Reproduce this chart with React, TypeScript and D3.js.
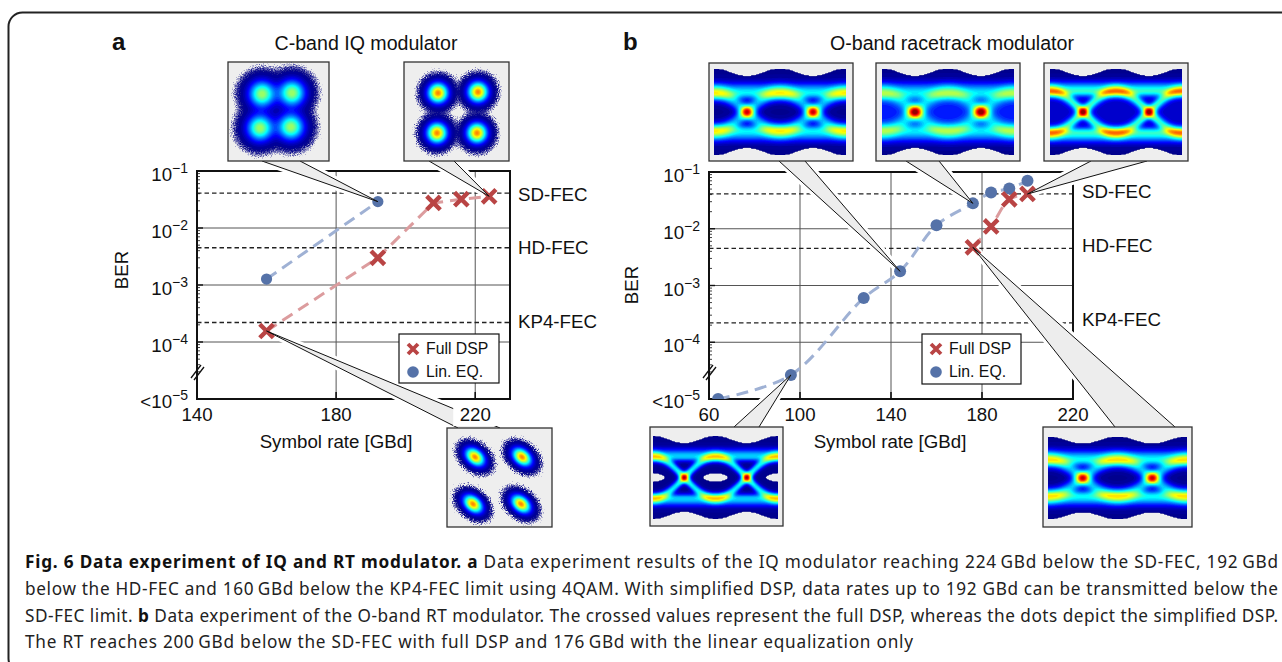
import React from "react";
import * as d3 from "d3";

// values
const iqFullRate = [160, 192, 208, 216, 224];
const iqFullBer = [1.56e-4, 3e-3, 0.0275, 0.032, 0.036];
const iqLinRate = [160, 192];
const iqLinBer = [1.27e-3, 0.029];

const rtLinRate = [64, 96, 128, 144, 160, 176, 184, 192, 200];
const rtLinBer = [1e-5, 2.65e-5, 6e-4, 1.78e-3, 0.0115, 0.028, 0.0436, 0.051, 0.07];
const rtFullRate = [176, 184, 192, 200];
const rtFullBer = [4.7e-3, 0.011, 0.033, 0.041];

const fecNames = ["SD-FEC", "HD-FEC", "KP4-FEC"];
const fecLimits = [0.041, 4.5e-3, 2.2e-4];
const berTicks = [1e-1, 1e-2, 1e-3, 1e-4, 1e-5];
const berLabels = ["\u22121", "\u22122", "\u22123", "\u22124", "\u22125"];
const iqRateTicks = [140, 180, 220];
const rtRateTicks = [60, 100, 140, 180, 220];
const legendNames = ["Full DSP", "Lin. EQ."];

const BLUE = "#5572a8";
const RED = "#b94444";
const BLUE_LINE = "#9fb1d4";
const RED_LINE = "#dc9c9e";
const SANS = "'Liberation Sans', Arial, sans-serif";
const BASE_FONT = 18.7;

const iqX = d3.scaleLinear().domain([140, 230]).range([197, 510]);
const iqY = d3.scaleLog().domain([1e-5, 1e-1]).range([399, 171]);
const rtX = d3.scaleLinear().domain([60, 220]).range([709, 1073]);
const rtY = d3.scaleLog().domain([1e-5, 1e-1]).range([399, 172]);

const jet = d3
  .scaleLinear<string>()
  .domain([0, 0.125, 0.375, 0.625, 0.875, 1])
  .range(["#00007f", "#0000ff", "#00ffff", "#ffff00", "#ff0000", "#7f0000"])
  .clamp(true);

const gauss = (d: number, s: number) => Math.exp(-(d * d) / (2 * s * s));

// the insets are painted as stacked d3 contours of a made up density
const levels = [0.002, 0.004, 0.008, 0.015, ...d3.range(0.025, 1, 0.025)];
const lowOpacity = [0.3, 0.45, 0.65, 0.85];

function Density({ x, y, w, h, f, grain }: any) {
  const values: number[] = [];
  for (let j = 0; j < h; j++) for (let i = 0; i < w; i++) values.push(f(i + 0.5, j + 0.5));
  const contours = d3.contours().size([w, h]).thresholds(levels)(values);
  const path = d3.geoPath();
  return (
    <g transform={`translate(${x},${y})`}>
      {contours.map((c: any, k: number) => (
        <path
          key={k}
          d={path(c) || ""}
          fill={jet(c.value)}
          fillOpacity={grain && k < 4 ? lowOpacity[k] : 1}
          filter={grain && k < 4 ? "url(#grain)" : undefined}
        />
      ))}
    </g>
  );
}

function eyeField(w: number, h: number, p: any) {
  return (i: number, j: number) => {
    const t = (i / w) * 2;
    const v = (h / 2 - j) / (h / 2);
    const a = Math.abs(v);
    if (a > p.e0 + p.e1 * Math.cos(2 * Math.PI * t)) return 0;
    if (p.holeT) {
      const dt = Math.min(Math.abs(t), Math.abs(t - 1), Math.abs(t - 2));
      if ((dt / p.holeT) ** 2 + (v / p.holeV) ** 2 < 1) return 0;
    }
    const tr = p.L * Math.cos(Math.PI * t);
    const dc = Math.min(Math.abs(t - 0.5), Math.abs(t - 1.5));
    return (
      0.018 +
      p.w1 * gauss(a - p.r, a < p.r ? p.sIn : p.sOut) +
      p.w2 * (gauss(v - tr, p.s2) + gauss(v + tr, p.s2)) +
      p.wc * gauss(dc, p.cw) * gauss(v, 0.1) +
      p.g * gauss(v, 0.3)
    );
  };
}

function blobField(centers: number[][], peak: number, sa: number, sb: number, angle: number) {
  const c = Math.cos(angle);
  const s = Math.sin(angle);
  return (i: number, j: number) => {
    let sum = 0;
    for (const [cx, cy] of centers) {
      const dx = i - cx;
      const dy = j - cy;
      const u = dx * c + dy * s;
      const v = -dx * s + dy * c;
      sum += peak * gauss(u, sa) * gauss(v, sb);
    }
    return sum;
  };
}

const calloutPoints = (base: number[], tip: number[]) =>
  `${base[0]},${base[2]} ${tip[0]},${tip[1]} ${base[1]},${base[2]}`;

// white edge that knocks out the frame and grid under a callout, drawn below the marks
function CalloutHalo({ base, tip }: any) {
  return <polyline points={calloutPoints(base, tip)} fill="none" stroke="#fff" strokeWidth={7} />;
}

function Callout({ base, tip }: any) {
  const pts = calloutPoints(base, tip);
  return (
    <g>
      <polygon points={pts} fill="#ededed" />
      <polyline points={pts} fill="none" stroke="#111" strokeWidth={1} />
    </g>
  );
}

function InsetBox({ box }: any) {
  const [bx, by, bw, bh] = box;
  return <rect x={bx} y={by} width={bw} height={bh} fill="#eeeeee" stroke="#333" strokeWidth={1.3} />;
}

function Cross({ x, y, r }: any) {
  return (
    <path
      d={`M${x - r},${y - r}L${x + r},${y + r}M${x - r},${y + r}L${x + r},${y - r}`}
      stroke={RED}
      strokeWidth={4.4}
      fill="none"
    />
  );
}

function Frame({ xScale, yScale, rateTicks, labelX, labelYs, berPos, rateLabelX }: any) {
  const [left, right] = xScale.range();
  const [bottom, top] = yScale.range();
  const minor = yScale.ticks().filter((v: number) => v >= 3e-5);
  return (
    <g fontFamily={SANS} fill="#111">
      {rateTicks.filter((t: number) => xScale(t) > left && xScale(t) < right).map((t: number) => (
        <line key={t} x1={xScale(t)} x2={xScale(t)} y1={top} y2={bottom} stroke="#555" strokeWidth={1} />
      ))}
      {berTicks.slice(1, 4).map((b) => (
        <line key={b} x1={left} x2={right} y1={yScale(b)} y2={yScale(b)} stroke="#555" strokeWidth={1} />
      ))}
      {fecLimits.map((b) => (
        <line key={b} x1={left} x2={right} y1={yScale(b)} y2={yScale(b)} stroke="#222" strokeWidth={1.3} strokeDasharray="4.5 3" />
      ))}
      <path d={`M${left},${bottom}V${top}H${right}V${bottom}Z`} fill="none" stroke="#111" strokeWidth={2} />
      {minor.map((v: number) => {
        const major = berTicks.includes(v);
        return <line key={v} x1={left} x2={left + (major ? 6 : 3)} y1={yScale(v)} y2={yScale(v)} stroke="#111" strokeWidth={major ? 1.4 : 0.8} />;
      })}
      {rateTicks.map((t: number) => (
        <line key={t} x1={xScale(t)} x2={xScale(t)} y1={bottom} y2={bottom - 7} stroke="#111" strokeWidth={1.6} />
      ))}
      {/* axis break */}
      <path d={`M${left - 6},${bottom - 21}L${left + 4},${bottom - 34}M${left - 3},${bottom - 19}L${left + 7},${bottom - 32}`} stroke="#111" strokeWidth={1.3} fill="none" />
      {berTicks.map((b, i) => (
        <text key={b} x={left - 9} y={yScale(b) + (i === 4 ? 9 : 10)} textAnchor="end" fontSize={BASE_FONT}>
          {i === 4 ? "<10" : "10"}
          <tspan dy={-8} fontSize={14}>{berLabels[i]}</tspan>
        </text>
      ))}
      {fecNames.map((n, i) => (
        <text key={n} x={labelX} y={labelYs[i]} fontSize={BASE_FONT}>{n}</text>
      ))}
      <text transform={`translate(${berPos[0]},${berPos[1]}) rotate(-90)`} textAnchor="middle" fontSize={BASE_FONT}>BER</text>
      <text x={rateLabelX} y={448} textAnchor="middle" fontSize={BASE_FONT}>Symbol rate [GBd]</text>
    </g>
  );
}

function Series({ xScale, yScale, full, lin, curve, clipId, dot, cross }: any) {
  const [left, right] = xScale.range();
  const [bottom, top] = yScale.range();
  const makeLine = (rates: number[]) =>
    d3
      .line<number>()
      .x((_, i) => xScale(rates[i]))
      .y((v) => yScale(v))
      .curve(curve);
  return (
    <g>
      <clipPath id={clipId}>
        <rect x={left} y={top - 12} width={right - left + 20} height={bottom - top + 12} />
      </clipPath>
      <g clipPath={`url(#${clipId})`}>
        <path d={makeLine(lin[0])(lin[1]) || ""} fill="none" stroke={BLUE_LINE} strokeWidth={3} strokeDasharray="12 7" />
        <path d={makeLine(full[0])(full[1]) || ""} fill="none" stroke={RED_LINE} strokeWidth={3} strokeDasharray="12 7" />
        {lin[0].map((r: number, i: number) => (
          <circle key={r} cx={xScale(r)} cy={yScale(lin[1][i])} r={dot} fill={BLUE} />
        ))}
        {full[0].map((r: number, i: number) => (
          <Cross key={r} x={xScale(r)} y={yScale(full[1][i])} r={cross} />
        ))}
      </g>
    </g>
  );
}

function RateLabels({ scale, ticks }: any) {
  return (
    <g fontFamily={SANS} fill="#111" fontSize={BASE_FONT}>
      {ticks.map((t: number) => {
        const px = scale(t);
        return (
          <g key={t}>
            <rect x={px - 22} y={406} width={44} height={20} fill="#fff" />
            <text x={px} y={421} textAnchor="middle">{t}</text>
          </g>
        );
      })}
    </g>
  );
}

function Legend({ x, y, w, h }: any) {
  return (
    <g fontFamily={SANS} fill="#111" fontSize={15.8}>
      <rect x={x} y={y} width={w} height={h} fill="#fff" stroke="#111" strokeWidth={1.2} />
      <path
        d={`M${x + 9},${y + 10}L${x + 19},${y + 20}M${x + 9},${y + 20}L${x + 19},${y + 10}`}
        stroke={RED}
        strokeWidth={3.8}
        fill="none"
      />
      <circle cx={x + 14} cy={y + 38} r={5.8} fill={BLUE} />
      <text x={x + 27} y={y + 20}>{legendNames[0]}</text>
      <text x={x + 27} y={y + 43}>{legendNames[1]}</text>
    </g>
  );
}

const eye1 = { L: 0.43, r: 0.45, w1: 0.36, sIn: 0.1, sOut: 0.15, w2: 0.28, s2: 0.13, wc: 0.38, cw: 0.07, g: 0, e0: 0.91, e1: 0.09 };
const eye2 = { L: 0.43, r: 0.45, w1: 0.31, sIn: 0.11, sOut: 0.16, w2: 0.2, s2: 0.14, wc: 0.5, cw: 0.08, g: 0.13, e0: 0.91, e1: 0.09 };
const eye3 = { L: 0.48, r: 0.49, w1: 0.4, sIn: 0.09, sOut: 0.14, w2: 0.36, s2: 0.1, wc: 0.25, cw: 0.07, g: 0.07, e0: 0.91, e1: 0.09 };
const eye4 = { L: 0.5, r: 0.51, w1: 0.33, sIn: 0.08, sOut: 0.12, w2: 0.36, s2: 0.085, wc: 0.26, cw: 0.06, g: 0, e0: 0.9, e1: 0.09, holeT: 0.2, holeV: 0.11 };
const eye5 = { L: 0.43, r: 0.45, w1: 0.37, sIn: 0.1, sOut: 0.15, w2: 0.29, s2: 0.13, wc: 0.36, cw: 0.07, g: 0, e0: 0.91, e1: 0.09 };

const callouts = [
  { base: [262, 300, 161], tip: [iqX(192), iqY(iqLinBer[1])] },
  { base: [429, 454, 161], tip: [iqX(224), iqY(iqFullBer[4])] },
  { base: [458, 500, 428], tip: [iqX(160), iqY(iqFullBer[0])] },
  { base: [779, 805, 161], tip: [rtX(144), rtY(rtLinBer[3])] },
  { base: [906, 939, 161], tip: [rtX(176), rtY(rtLinBer[5])] },
  { base: [1091, 1147, 161], tip: [rtX(200), rtY(rtFullBer[3])] },
  { base: [734, 759, 427], tip: [rtX(96), rtY(rtLinBer[1])] },
  { base: [1115, 1175, 427], tip: [rtX(176), rtY(rtFullBer[0])] },
];

export default function App() {
  return (
    <svg width={1282} height={662} style={{ position: "absolute", left: 0, top: 0 }}>
      <defs>
        <filter id="grain" x="-15%" y="-15%" width="130%" height="130%">
          <feTurbulence type="fractalNoise" baseFrequency="0.9" numOctaves={2} seed={4} />
          <feDisplacementMap in="SourceGraphic" scale={10} xChannelSelector="R" yChannelSelector="G" />
        </filter>
      </defs>
      <rect width={1282} height={662} fill="#fff" />
      <rect x={8.5} y={12.5} width={1400} height={660} rx={14} fill="none" stroke="#222" strokeWidth={2} />

      <text x={112} y={50} fontFamily={SANS} fontWeight="bold" fontSize={24} fill="#111">a</text>
      <text x={623} y={50} fontFamily={SANS} fontWeight="bold" fontSize={24} fill="#111">b</text>
      <text x={366} y={50} textAnchor="middle" fontFamily={SANS} fontSize={19.6} fill="#111">C-band IQ modulator</text>
      <text x={952} y={50} textAnchor="middle" fontFamily={SANS} fontSize={19.6} fill="#111">O-band racetrack modulator</text>

      <Frame xScale={iqX} yScale={iqY} rateTicks={iqRateTicks} labelX={518} labelYs={[201, 254, 328]} berPos={[128, 270]} rateLabelX={336} />
      <Frame xScale={rtX} yScale={rtY} rateTicks={rtRateTicks} labelX={1082} labelYs={[198, 252, 326]} berPos={[638, 285]} rateLabelX={890} />

      {callouts.map((c, i) => <CalloutHalo key={i} {...c} />)}

      <Series xScale={iqX} yScale={iqY} full={[iqFullRate, iqFullBer]} lin={[iqLinRate, iqLinBer]} curve={d3.curveLinear} clipId="clipA" dot={5.6} cross={6.8} />
      <Series xScale={rtX} yScale={rtY} full={[rtFullRate, rtFullBer]} lin={[rtLinRate, rtLinBer]} curve={d3.curveCatmullRom} clipId="clipB" dot={6} cross={6.8} />

      {callouts.map((c, i) => <Callout key={i} {...c} />)}

      <RateLabels scale={iqX} ticks={iqRateTicks} />
      <RateLabels scale={rtX} ticks={rtRateTicks} />
      <Legend x={399} y={334} w={100} h={49} />
      <Legend x={922} y={334} w={99} h={50} />

      {/* constellations */}
      <InsetBox box={[228, 62, 101, 99]} />
      <Density x={228} y={62} w={101} h={99} grain f={blobField([[34, 32], [64, 31], [32, 66], [63, 65]], 0.55, 8.6, 8.6, 0)} />
      <InsetBox box={[404, 62, 105, 99]} />
      <Density x={404} y={62} w={105} h={99} grain f={blobField([[34, 31], [74, 30], [33, 71], [73, 71]], 0.76, 6.6, 6.6, 0)} />
      <InsetBox box={[447, 428, 105, 99]} />
      <Density x={447} y={428} w={105} h={99} grain f={blobField([[28, 29], [75, 29], [26, 76], [74, 76]], 0.76, 7, 4.8, 0.7)} />

      {/* eye diagrams */}
      <InsetBox box={[709, 63, 144, 98]} />
      <Density x={714} y={69} w={132} h={86} f={eyeField(132, 86, eye1)} />
      <InsetBox box={[876, 63, 144, 98]} />
      <Density x={882} y={69} w={132} h={86} f={eyeField(132, 86, eye2)} />
      <InsetBox box={[1044, 63, 144, 98]} />
      <Density x={1050} y={69} w={132} h={86} f={eyeField(132, 86, eye3)} />
      <InsetBox box={[650, 427, 133, 99]} />
      <Density x={653} y={436} w={125} h={83} f={eyeField(125, 83, eye4)} />
      <InsetBox box={[1043, 427, 149, 100]} />
      <Density x={1048} y={437} w={139} h={82} f={eyeField(139, 82, eye5)} />

      <g fontFamily="'Noto Sans', sans-serif" fontSize={17.2} fill="#222">
        <text x={25} y={568} textLength={1253}>
          <tspan fontWeight="bold" fill="#111">Fig. 6 Data experiment of IQ and RT modulator. a</tspan> Data experiment results of the IQ modulator reaching 224{"\u2009"}GBd below the SD-FEC, 192{"\u2009"}GBd
        </text>
        <text x={25} y={595} textLength={1253}>
          below the HD-FEC and 160{"\u2009"}GBd below the KP4-FEC limit using 4QAM. With simplified DSP, data rates up to 192 GBd can be transmitted below the
        </text>
        <text x={25} y={622} textLength={1253}>
          SD-FEC limit. <tspan fontWeight="bold" fill="#111">b</tspan> Data experiment of the O-band RT modulator. The crossed values represent the full DSP, whereas the dots depict the simplified DSP.
        </text>
        <text x={25} y={648} textLength={888}>
          The RT reaches 200{"\u2009"}GBd below the SD-FEC with full DSP and 176{"\u2009"}GBd with the linear equalization only
        </text>
      </g>
    </svg>
  );
}
